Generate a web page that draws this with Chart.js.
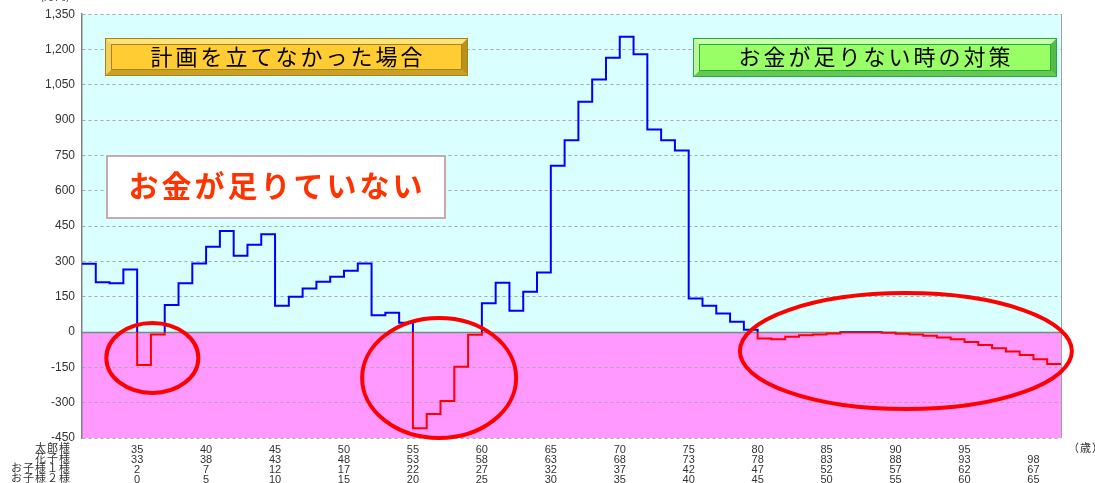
<!DOCTYPE html>
<html>
<head>
<meta charset="utf-8">
<script src="https://cdn.jsdelivr.net/npm/chart.js@4.4.0/dist/chart.umd.min.js"></script>
<style>
  html, body { margin: 0; padding: 0; background: #fff; }
  #wrap { width: 1095px; height: 483px; }
</style>
</head>
<body>
<div id="wrap"><canvas id="chart"></canvas></div>
<script>
// 太郎様の年齢ごとの収支残高（万円）
const ages = [31, 32, 33, 34, 35, 36, 37, 38, 39, 40, 41, 42, 43, 44, 45, 46, 47, 48, 49, 50,
  51, 52, 53, 54, 55, 56, 57, 58, 59, 60, 61, 62, 63, 64, 65, 66, 67, 68, 69, 70,
  71, 72, 73, 74, 75, 76, 77, 78, 79, 80, 81, 82, 83, 84, 85, 86, 87, 88, 89, 90,
  91, 92, 93, 94, 95, 96, 97, 98, 99, 100, 101];
const balance = [290, 212, 207, 266, -140, -10, 115, 207, 291, 362, 429, 324, 371, 415, 112, 150, 185, 214, 235, 260,
  291, 71, 82, 40, -409, -348, -293, -147, -11, 122, 209, 90, 171, 253, 706, 815, 978, 1073, 1165, 1254,
  1180, 860, 815, 771, 143, 112, 79, 44, 10, -27, -31, -20, -14, -10, -6, -1, -1, -1, -3, -7,
  -10, -16, -23, -31, -42, -55, -69, -83, -98, -116, -136];
const endAge = 102;

// 下の年齢表
const tickAges = [35, 40, 45, 50, 55, 60, 65, 70, 75, 80, 85, 90, 95, 100];
const taroRow   = ['35', '40', '45', '50', '55', '60', '65', '70', '75', '80', '85', '90', '95', ''];
const hanakoRow = ['33', '38', '43', '48', '53', '58', '63', '68', '73', '78', '83', '88', '93', '98'];
const child1Row = ['2', '7', '12', '17', '22', '27', '32', '37', '42', '47', '52', '57', '62', '67'];
const child2Row = ['0', '5', '10', '15', '20', '25', '30', '35', '40', '45', '50', '55', '60', '65'];
const rowNames = ['太郎様', '花子様', 'お子様１様', 'お子様２様'];

const BLUE = '#0000ff';
const RED = '#ff0000';
const JP = '"Noto Sans CJK JP", sans-serif';
const NUM = '"Liberation Sans", "Noto Sans CJK JP", sans-serif';

const points = ages.map((a, i) => ({ x: a, y: balance[i] }));
points.push({ x: endAge, y: balance[balance.length - 1] });

// 0より上は青、下は赤
function lineColor(ctx) {
  const chart = ctx.chart;
  const area = chart.chartArea;
  if (!area) return BLUE;
  const z = chart.scales.y.getPixelForValue(0);
  const t = Math.min(1, Math.max(0, (z - area.top) / (area.bottom - area.top)));
  const g = chart.ctx.createLinearGradient(0, area.top, 0, area.bottom);
  g.addColorStop(0, BLUE);
  g.addColorStop(t, BLUE);
  g.addColorStop(t, RED);
  g.addColorStop(1, RED);
  return g;
}

function bevelBox(c, x, y, w, h, b, col) {
  c.fillStyle = col.face;
  c.fillRect(x, y, w, h);
  c.fillStyle = col.light;
  c.beginPath(); c.moveTo(x, y); c.lineTo(x + w, y); c.lineTo(x + w - b, y + b); c.lineTo(x + b, y + b); c.closePath(); c.fill();
  c.fillStyle = col.light2;
  c.beginPath(); c.moveTo(x, y); c.lineTo(x + b, y + b); c.lineTo(x + b, y + h - b); c.lineTo(x, y + h); c.closePath(); c.fill();
  c.fillStyle = col.dark;
  c.beginPath(); c.moveTo(x + w, y); c.lineTo(x + w, y + h); c.lineTo(x + w - b, y + h - b); c.lineTo(x + w - b, y + b); c.closePath(); c.fill();
  c.fillStyle = col.dark2;
  c.beginPath(); c.moveTo(x, y + h); c.lineTo(x + w, y + h); c.lineTo(x + w - b, y + h - b); c.lineTo(x + b, y + h - b); c.closePath(); c.fill();
  c.strokeStyle = col.edge;
  c.lineWidth = 1;
  c.strokeRect(x + 0.5, y + 0.5, w - 1, h - 1);
  c.strokeRect(x + b + 0.5, y + b + 0.5, w - 2 * b - 1, h - 2 * b - 1);
}

const decor = {
  id: 'decor',
  beforeDraw(chart) {
    const { ctx: c, chartArea: a, scales } = chart;
    const z = scales.y.getPixelForValue(0);
    c.save();
    c.fillStyle = '#d9ffff';
    c.fillRect(a.left, a.top, a.right - a.left, z - a.top);
    c.fillStyle = '#ff99ff';
    c.fillRect(a.left, z, a.right - a.left, a.bottom - z);
    c.restore();
  },
  beforeDatasetsDraw(chart) {
    const { ctx: c, chartArea: a, scales } = chart;
    const z = Math.round(scales.y.getPixelForValue(0)) + 0.5;
    c.save();
    c.strokeStyle = '#6f8f7f';
    c.lineWidth = 1.5;
    c.beginPath(); c.moveTo(a.left, z); c.lineTo(a.right, z); c.stroke();
    c.strokeStyle = '#a0a0a0';
    c.lineWidth = 1;
    c.beginPath(); c.moveTo(a.right + 0.5, a.top); c.lineTo(a.right + 0.5, a.bottom); c.stroke();
    c.restore();
  },
  afterDraw(chart) {
    const { ctx: c, chartArea: a, scales } = chart;
    const x = scales.x, y = scales.y;
    c.save();

    // unit (cut at top)
    c.fillStyle = '#333';
    c.font = '11px ' + JP;
    c.textAlign = 'center';
    c.textBaseline = 'alphabetic';
    c.fillText('(万円)', 55, 0);

    // row names of age table
    c.font = '11px ' + JP;
    c.letterSpacing = '1px';
    c.textAlign = 'right';
    c.textBaseline = 'middle';
    rowNames.forEach((n, i) => c.fillText(n, 71, a.bottom + 10 + i * 10));
    c.textAlign = 'left';
    c.fillText('（歳）', 1068, a.bottom + 10);

    // title boxes
    bevelBox(c, 105, 38, 363, 38, 6, {
      face: '#ffcc33', light: '#ffe27a', light2: '#f2d060', dark: '#b8921c', dark2: '#c9a128', edge: '#a88418'
    });
    bevelBox(c, 693, 38, 364, 39, 6, {
      face: '#99ff66', light: '#ccffaa', light2: '#bff598', dark: '#55bb44', dark2: '#66c850', edge: '#22aa44'
    });
    c.fillStyle = '#000';
    c.font = '22px ' + JP;
    c.letterSpacing = '3px';
    c.textAlign = 'center';
    c.textBaseline = 'middle';
    c.fillText('計画を立てなかった場合', 288, 57);
    c.fillText('お金が足りない時の対策', 876, 57);

    // warning box
    c.fillStyle = '#ffffff';
    c.fillRect(106, 155, 340, 64);
    c.strokeStyle = '#c9a9a9';
    c.lineWidth = 2;
    c.strokeRect(107, 156, 338, 62);
    c.fillStyle = '#ff3300';
    c.font = 'bold 30px ' + JP;
    c.letterSpacing = '3px';
    c.fillText('お金が足りていない', 277, 186);
    c.letterSpacing = '0px';

    // red ellipses (centre in data units, radius in px)
    const rings = [
      { age: 36.1, val: -110, rx: 46, ry: 35 },
      { age: 56.9, val: -195, rx: 77, ry: 60 },
      { age: 90.75, val: -81, rx: 166, ry: 58 }
    ];
    c.strokeStyle = RED;
    c.lineWidth = 4;
    rings.forEach(r => {
      c.beginPath();
      c.ellipse(x.getPixelForValue(r.age), y.getPixelForValue(r.val), r.rx, r.ry, 0, 0, Math.PI * 2);
      c.stroke();
    });
    c.restore();
  }
};

new Chart(document.getElementById('chart'), {
  type: 'line',
  data: {
    datasets: [{
      data: points,
      borderColor: lineColor,
      borderWidth: 2,
      stepped: 'before',
      pointRadius: 0,
      fill: false
    }]
  },
  options: {
    responsive: true,
    maintainAspectRatio: false,
    animation: false,
    layout: { padding: { top: 14, right: 34, left: 0, bottom: 0 } },
    plugins: { legend: { display: false }, tooltip: { enabled: false } },
    scales: {
      x: {
        type: 'linear',
        min: ages[0],
        max: endAge,
        grid: { display: false, drawTicks: false },
        border: { display: false },
        afterBuildTicks: s => { s.ticks = tickAges.map(v => ({ value: v })); },
        afterFit: s => { s.height = 45; },
        ticks: {
          autoSkip: false,
          maxRotation: 0,
          padding: 7,
          color: '#333',
          font: { family: NUM, size: 11, lineHeight: '10px' },
          callback: (v, i) => [taroRow[i], hanakoRow[i], child1Row[i], child2Row[i]]
        }
      },
      y: {
        min: -450,
        max: 1350,
        afterBuildTicks: s => {
          const t = [];
          for (let v = -450; v <= 1350; v += 150) t.push({ value: v });
          s.ticks = t;
        },
        afterFit: s => { s.width = 82; },
        grid: {
          drawTicks: false,
          color: c => c.tick && c.tick.value === 0 ? 'rgba(0,0,0,0)' : '#a8a8a8',
          lineWidth: 1
        },
        border: { display: true, color: '#808080', width: 1.5, dash: [3, 3] },
        ticks: {
          padding: 7,
          color: '#333',
          font: { family: NUM, size: 12 },
          callback: v => v.toLocaleString('en-US')
        }
      }
    }
  },
  plugins: [decor]
});
</script>
</body>
</html>
